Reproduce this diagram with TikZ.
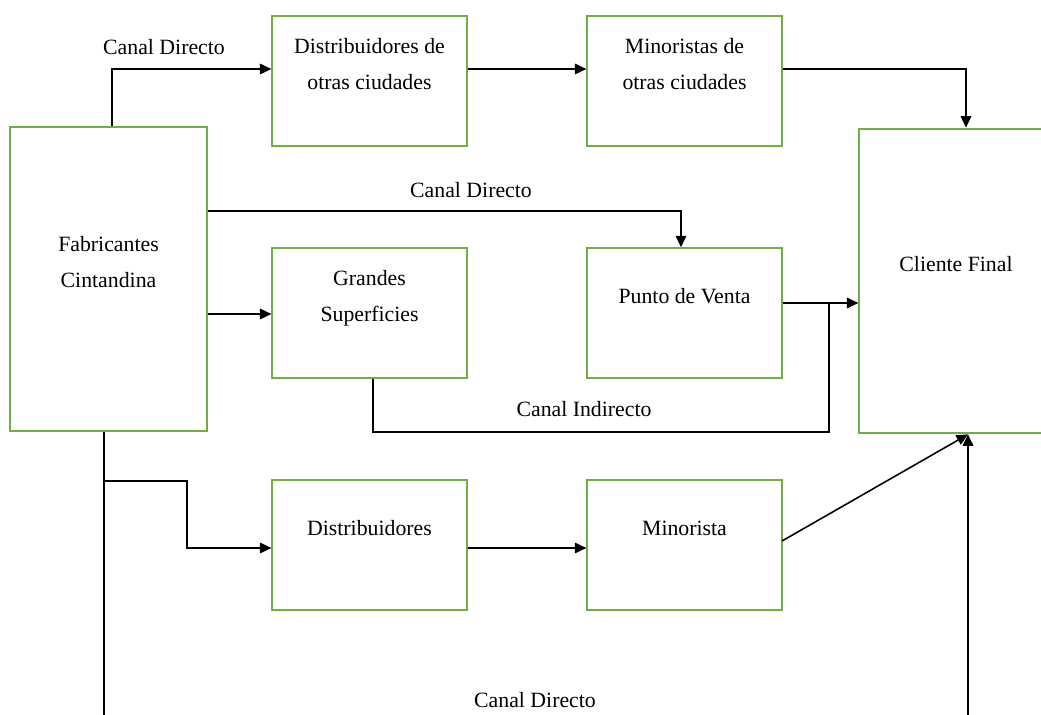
\documentclass[tikz,border=0pt]{standalone}
\usepackage{fontspec}
\setmainfont{Liberation Serif}
\usetikzlibrary{positioning,arrows.meta}

\definecolor{boxgreen}{RGB}{112,173,71}

\tikzset{
  box/.style = {draw=boxgreen, line width=1.1pt, minimum width=110.6pt,
                minimum height=73.7pt, align=center,
                text height=10pt, text depth=20.5pt},
  twoline/.style = {text height=31.5pt, text depth=21.3pt},
  tall/.style = {minimum height=173.5pt},
  flow/.style = {line width=0.9pt, -{Triangle[length=6.5pt,width=6pt]}},
  link/.style = {line width=0.9pt}
}

\begin{document}
\begin{tikzpicture}[x=0.02cm, y=-0.02cm,
    every node/.style={font=\fontsize{12.4}{21}\selectfont}]
  \useasboundingbox (0,0) rectangle (1041,715);
  \clip (0,0) rectangle (1041,715);

  % Producer and final customer
  \node[box, tall, twoline, minimum width=111.7pt] (fab) at (108.5,279) {Fabricantes\\Cintandina};
  \node[box, tall, minimum width=110pt] (cliente) at (956,281) {Cliente Final};

  % Top row: other cities
  \node[box, twoline] (dotras) at (369.5,81) {Distribuidores de\\otras ciudades};
  \node[box, twoline] (motras) at (684.5,81) {Minoristas de\\otras ciudades};

  % Middle row
  \node[box, twoline] (grandes) at (369.5,313) {Grandes\\Superficies};
  \node[box] (punto) at (684.5,313) {Punto de Venta};

  % Bottom row
  \node[box] (dist) at (369.5,545) {Distribuidores};
  \node[box] (mino) at (684.5,545) {Minorista};

  % Channel labels
  \node (canal1) at (164,47) {Canal Directo};
  \node (canal2) at (471,190) {Canal Directo};
  \node (canal3) at (584,409) {Canal Indirecto};
  \node (canal4) at (535,700) {Canal Directo};

  % Corner points of the connectors
  \coordinate (t1) at (112,69);
  \coordinate (t2) at (966,69);
  \coordinate (t3) at (681,211);
  \coordinate (t4) at (240,314);
  \coordinate (t5) at (829,303);
  \coordinate (t6) at (373,432);
  \coordinate (t7) at (104,730);
  \coordinate (t8) at (187,481);
  \coordinate (t9) at (187,548);
  \coordinate (t10) at (968,730);
  \coordinate (t11) at (782,541);

  % Edges through other cities
  \draw[flow] (t1 |- fab.north) -- (t1) -- (t1 -| dotras.west);
  \draw[flow] (dotras.east |- t1) -- (motras.west |- t1);
  \draw[flow] (motras.east |- t2) -- (t2) -- (t2 |- cliente.north);

  % Edges through point of sale
  \draw[flow] (t3 -| fab.east) -- (t3) -- (t3 |- punto.north);
  \draw[flow] (t4 -| fab.east) -- (t4 -| grandes.west);
  \draw[flow] (punto.east |- t5) -- (t5 -| cliente.west);
  \draw[link] (t6 |- grandes.south) -- (t6) -- (t6 -| t5) -- (t5);

  % Edges through distributors
  \draw[link] (t7 |- fab.south) -- (t7);
  \draw[flow] (t7 |- t8) -- (t8) -- (t9) -- (t9 -| dist.west);
  \draw[flow] (dist.east |- t9) -- (mino.west |- t9);
  \draw[flow] (t11) -- (t10 |- cliente.south);
  \draw[flow] (t10) -- (t10 |- cliente.south);

\end{tikzpicture}
\end{document}
